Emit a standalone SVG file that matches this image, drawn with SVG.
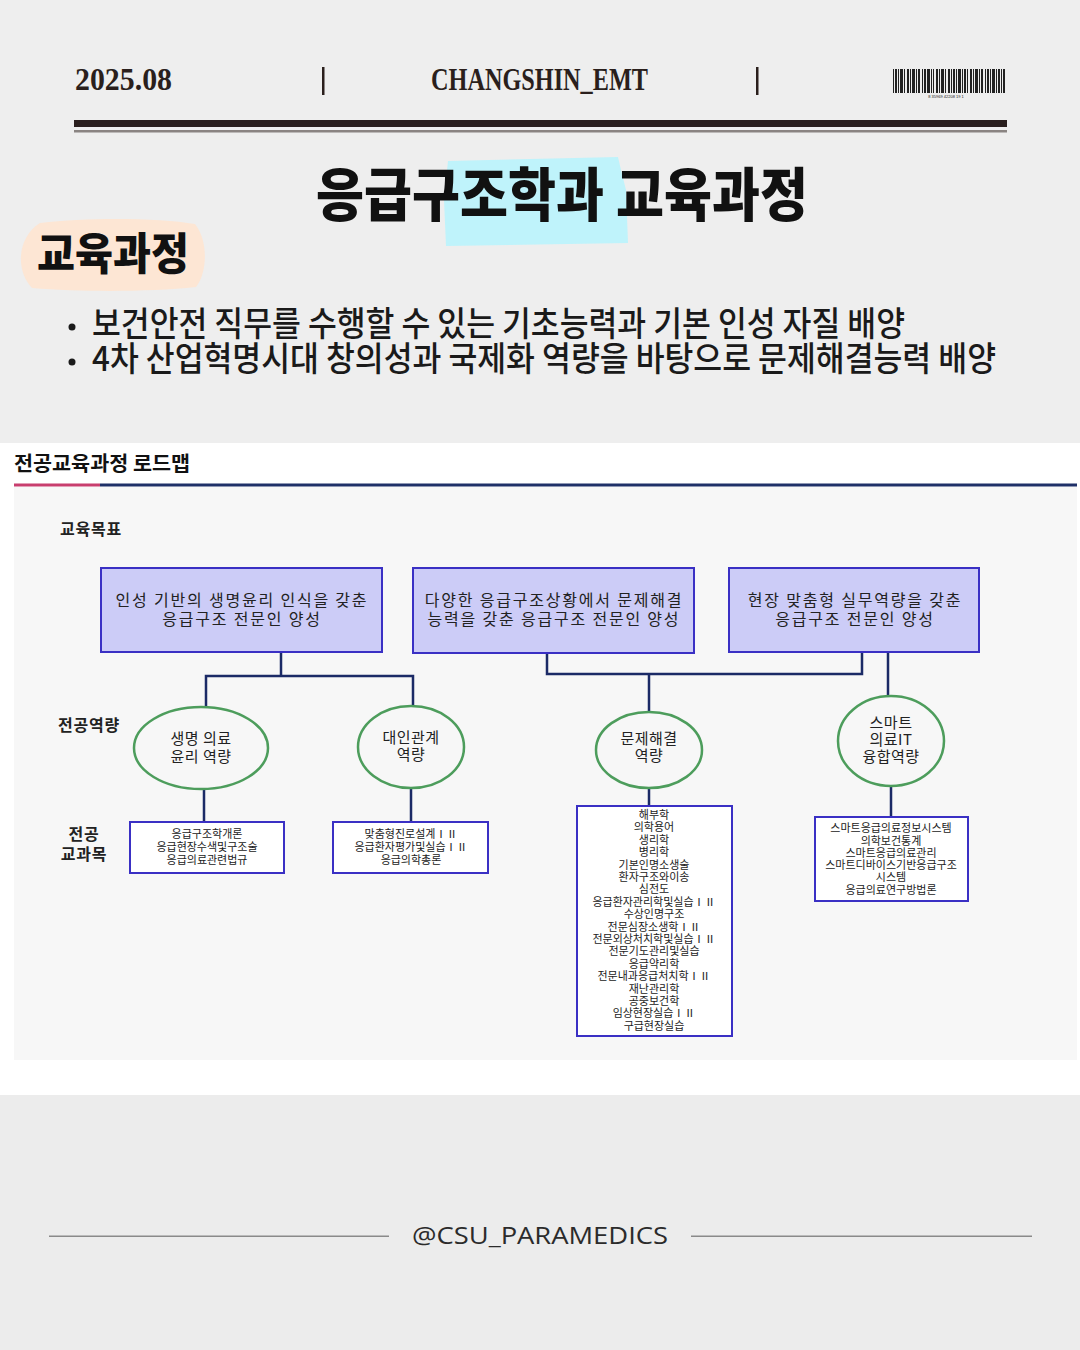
<svg xmlns="http://www.w3.org/2000/svg" width="1080" height="1350" viewBox="0 0 1080 1350">
<style>
.kr{font-family:"Noto Sans CJK KR","Noto Sans",sans-serif}
.hdr{font-family:"Liberation Serif","DejaVu Serif",serif;font-weight:700;fill:#2a1f1c}
.goal rect{fill:#ccccf7;stroke:#3a30c4;stroke-width:2}
.goal text{font-size:16px;fill:#222;text-anchor:middle;letter-spacing:1.8px}
.comp ellipse{fill:#f7f7f7;stroke:#4d9d5c;stroke-width:2.5}
.comp text{font-size:15px;fill:#222;text-anchor:middle;letter-spacing:0.5px}
.course rect{fill:#fff;stroke:#3a30c4;stroke-width:2}
.course text{font-size:11px;fill:#222;text-anchor:middle}
.lbl{font-size:16px;font-weight:700;fill:#222;letter-spacing:0.8px}
.conn{fill:none;stroke:#1b2a66;stroke-width:2.5}
.bar{fill:#222}
</style>
<rect x="0" y="0" width="1080" height="1350" fill="#eeeeee"/>
<rect x="0" y="443" width="1080" height="652" fill="#ffffff"/>
<rect x="0" y="1095" width="1080" height="255" fill="#ececec"/>

<g id="header">
<text class="hdr" x="75" y="90" font-size="31" textLength="97" lengthAdjust="spacingAndGlyphs">2025.08</text>
<rect x="322" y="67" width="2.5" height="28" fill="#2a1f1c"/>
<text class="hdr" x="431" y="90" font-size="31" textLength="217" lengthAdjust="spacingAndGlyphs">CHANGSHIN_EMT</text>
<rect x="756" y="67" width="2.5" height="28" fill="#2a1f1c"/>
<g id="barcode">
<rect class="bar" x="893" y="69" width="1" height="24"/>
<rect class="bar" x="895" y="69" width="2" height="24"/>
<rect class="bar" x="898" y="69" width="1" height="24"/>
<rect class="bar" x="900" y="69" width="3" height="24"/>
<rect class="bar" x="904" y="69" width="1" height="24"/>
<rect class="bar" x="907" y="69" width="2" height="24"/>
<rect class="bar" x="910" y="69" width="1" height="24"/>
<rect class="bar" x="912" y="69" width="3" height="24"/>
<rect class="bar" x="916" y="69" width="1" height="24"/>
<rect class="bar" x="918" y="69" width="2" height="24"/>
<rect class="bar" x="922" y="69" width="1" height="24"/>
<rect class="bar" x="924" y="69" width="2" height="24"/>
<rect class="bar" x="927" y="69" width="3" height="24"/>
<rect class="bar" x="931" y="69" width="1" height="24"/>
<rect class="bar" x="933" y="69" width="1" height="24"/>
<rect class="bar" x="936" y="69" width="2" height="24"/>
<rect class="bar" x="939" y="69" width="1" height="24"/>
<rect class="bar" x="941" y="69" width="3" height="24"/>
<rect class="bar" x="945" y="69" width="1" height="24"/>
<rect class="bar" x="948" y="69" width="2" height="24"/>
<rect class="bar" x="951" y="69" width="1" height="24"/>
<rect class="bar" x="953" y="69" width="2" height="24"/>
<rect class="bar" x="956" y="69" width="1" height="24"/>
<rect class="bar" x="958" y="69" width="3" height="24"/>
<rect class="bar" x="962" y="69" width="1" height="24"/>
<rect class="bar" x="964" y="69" width="2" height="24"/>
<rect class="bar" x="967" y="69" width="1" height="24"/>
<rect class="bar" x="970" y="69" width="2" height="24"/>
<rect class="bar" x="973" y="69" width="1" height="24"/>
<rect class="bar" x="975" y="69" width="3" height="24"/>
<rect class="bar" x="979" y="69" width="1" height="24"/>
<rect class="bar" x="981" y="69" width="2" height="24"/>
<rect class="bar" x="985" y="69" width="1" height="24"/>
<rect class="bar" x="987" y="69" width="2" height="24"/>
<rect class="bar" x="990" y="69" width="1" height="24"/>
<rect class="bar" x="992" y="69" width="3" height="24"/>
<rect class="bar" x="996" y="69" width="1" height="24"/>
<rect class="bar" x="998" y="69" width="2" height="24"/>
<rect class="bar" x="1001" y="69" width="1" height="24"/>
<rect class="bar" x="1003" y="69" width="2" height="24"/>
<text x="946" y="98" font-size="4" font-family="Liberation Sans,sans-serif" text-anchor="middle" fill="#222">8 35969 42208 19 1</text>
</g>
<rect x="74" y="120" width="933" height="7" fill="#2a1f1e"/>
<rect x="74" y="130" width="933" height="2.5" fill="#8a8482"/>
</g>

<g id="title">
<path d="M448 161 L618 157 L621 170 L626 190 L628 243 L446 246 L444 200 Z" fill="#bff3fb"/>
<text class="kr" x="562" y="216" font-size="58" font-weight="900" fill="#111" text-anchor="middle" textLength="492" lengthAdjust="spacingAndGlyphs">응급구조학과 교육과정</text>
</g>

<g id="badge">
<path d="M40 223 C90 217 160 218 195 224 C208 240 208 272 196 287 C150 292 80 292 32 288 C16 272 16 238 40 223 Z" fill="#fde6d4"/>
<text class="kr" x="37" y="270" font-size="44" font-weight="900" fill="#111" textLength="152" lengthAdjust="spacingAndGlyphs">교육과정</text>
</g>

<g id="bullets">
<circle cx="72" cy="327" r="3.5" fill="#1a1a1a"/>
<circle cx="72" cy="362" r="3.5" fill="#1a1a1a"/>
<text class="kr" font-size="34" font-weight="500" fill="#1a1a1a"><tspan x="92" y="336" textLength="813" lengthAdjust="spacingAndGlyphs">보건안전 직무를 수행할 수 있는 기초능력과 기본 인성 자질 배양</tspan><tspan x="92" y="371" textLength="904" lengthAdjust="spacingAndGlyphs">4차 산업혁명시대 창의성과 국제화 역량을 바탕으로 문제해결능력 배양</tspan></text>
</g>

<g id="roadmap-header">
<text class="kr" x="14" y="471" font-size="20" font-weight="700" fill="#111" textLength="176" lengthAdjust="spacingAndGlyphs">전공교육과정 로드맵</text>
<rect x="14" y="483.5" width="86" height="3" fill="#c83e6e"/>
<rect x="100" y="483.5" width="977" height="3" fill="#1f3068"/>
</g>
<rect x="14" y="487" width="1063" height="573" fill="#f7f7f7"/>

<g id="labels" class="kr">
<text class="lbl" x="60" y="535">교육목표</text>
<text class="lbl" x="58" y="731">전공역량</text>
<text class="lbl" text-anchor="middle"><tspan x="84" y="840">전공</tspan><tspan x="84" y="860">교과목</tspan></text>
</g>

<g id="connectors" class="conn">
<path d="M281 652 V676 M206 709 V676 H413 V706"/>
<path d="M547 653 V674 H862 V652 M649 674 V714"/>
<path d="M888 652 V697"/>
<path d="M204 789 V822 M411 788 V822 M649 788 V806 M891 786 V817"/>
</g>

<g id="goal1" class="goal kr">
<rect x="101" y="568" width="281" height="84"/>
<text><tspan x="242" y="606">인성 기반의 생명윤리 인식을 갖춘</tspan><tspan x="242" y="625">응급구조 전문인 양성</tspan></text>
</g>
<g id="goal2" class="goal kr">
<rect x="413" y="568" width="281" height="85"/>
<text><tspan x="554" y="606">다양한 응급구조상황에서 문제해결</tspan><tspan x="554" y="625">능력을 갖춘 응급구조 전문인 양성</tspan></text>
</g>
<g id="goal3" class="goal kr">
<rect x="729" y="568" width="250" height="84"/>
<text><tspan x="855" y="606">현장 맞춤형 실무역량을 갖춘</tspan><tspan x="855" y="625">응급구조 전문인 양성</tspan></text>
</g>

<g id="comp1" class="comp kr">
<ellipse cx="201" cy="748" rx="67" ry="41"/>
<text><tspan x="201" y="744">생명 의료</tspan><tspan x="201" y="762">윤리 역량</tspan></text>
</g>
<g id="comp2" class="comp kr">
<ellipse cx="411" cy="747" rx="53" ry="41"/>
<text><tspan x="411" y="743">대인관계</tspan><tspan x="411" y="760">역량</tspan></text>
</g>
<g id="comp3" class="comp kr">
<ellipse cx="649" cy="750" rx="53" ry="38"/>
<text><tspan x="649" y="744">문제해결</tspan><tspan x="649" y="761">역량</tspan></text>
</g>
<g id="comp4" class="comp kr">
<ellipse cx="891" cy="741" rx="53" ry="45"/>
<text><tspan x="891" y="728">스마트</tspan><tspan x="891" y="745">의료IT</tspan><tspan x="891" y="762">융합역량</tspan></text>
</g>

<g id="course1" class="course kr">
<rect x="130" y="822" width="154" height="51"/>
<text><tspan x="207" y="838">응급구조학개론</tspan><tspan x="207" y="851">응급현장수색및구조술</tspan><tspan x="207" y="864">응급의료관련법규</tspan></text>
</g>
<g id="course2" class="course kr">
<rect x="333" y="822" width="155" height="51"/>
<text><tspan x="411" y="838">맞춤형진로설계ⅠⅡ</tspan><tspan x="411" y="851">응급환자평가및실습ⅠⅡ</tspan><tspan x="411" y="864">응급의학총론</tspan></text>
</g>
<g id="course3" class="course kr">
<rect x="577" y="806" width="155" height="230"/>
<text><tspan x="654" y="819">해부학</tspan><tspan x="654" y="831.4">의학용어</tspan><tspan x="654" y="843.8">생리학</tspan><tspan x="654" y="856.2">병리학</tspan><tspan x="654" y="868.6">기본인명소생술</tspan><tspan x="654" y="881">환자구조와이송</tspan><tspan x="654" y="893.4">심전도</tspan><tspan x="654" y="905.8">응급환자관리학및실습ⅠⅡ</tspan><tspan x="654" y="918.2">수상인명구조</tspan><tspan x="654" y="930.6">전문심장소생학ⅠⅡ</tspan><tspan x="654" y="943">전문외상처치학및실습ⅠⅡ</tspan><tspan x="654" y="955.4">전문기도관리및실습</tspan><tspan x="654" y="967.8">응급약리학</tspan><tspan x="654" y="980.2">전문내과응급처치학ⅠⅡ</tspan><tspan x="654" y="992.6">재난관리학</tspan><tspan x="654" y="1005">공중보건학</tspan><tspan x="654" y="1017.4">임상현장실습ⅠⅡ</tspan><tspan x="654" y="1029.8">구급현장실습</tspan></text>
</g>
<g id="course4" class="course kr">
<rect x="815" y="817" width="153" height="84"/>
<text><tspan x="891" y="832">스마트응급의료정보시스템</tspan><tspan x="891" y="845">의학보건통계</tspan><tspan x="891" y="857">스마트응급의료관리</tspan><tspan x="891" y="869">스마트디바이스기반응급구조</tspan><tspan x="891" y="881">시스템</tspan><tspan x="891" y="894">응급의료연구방법론</tspan></text>
</g>

<g id="footer">
<rect x="49" y="1235.5" width="340" height="1.5" fill="#8a8a8a"/>
<rect x="691" y="1235.5" width="341" height="1.5" fill="#8a8a8a"/>
<text x="540" y="1244" font-family="Open Sans,Liberation Sans,sans-serif" font-size="24" font-weight="500" fill="#2b2b2b" text-anchor="middle" textLength="256" lengthAdjust="spacingAndGlyphs">@CSU_PARAMEDICS</text>
</g>
</svg>
